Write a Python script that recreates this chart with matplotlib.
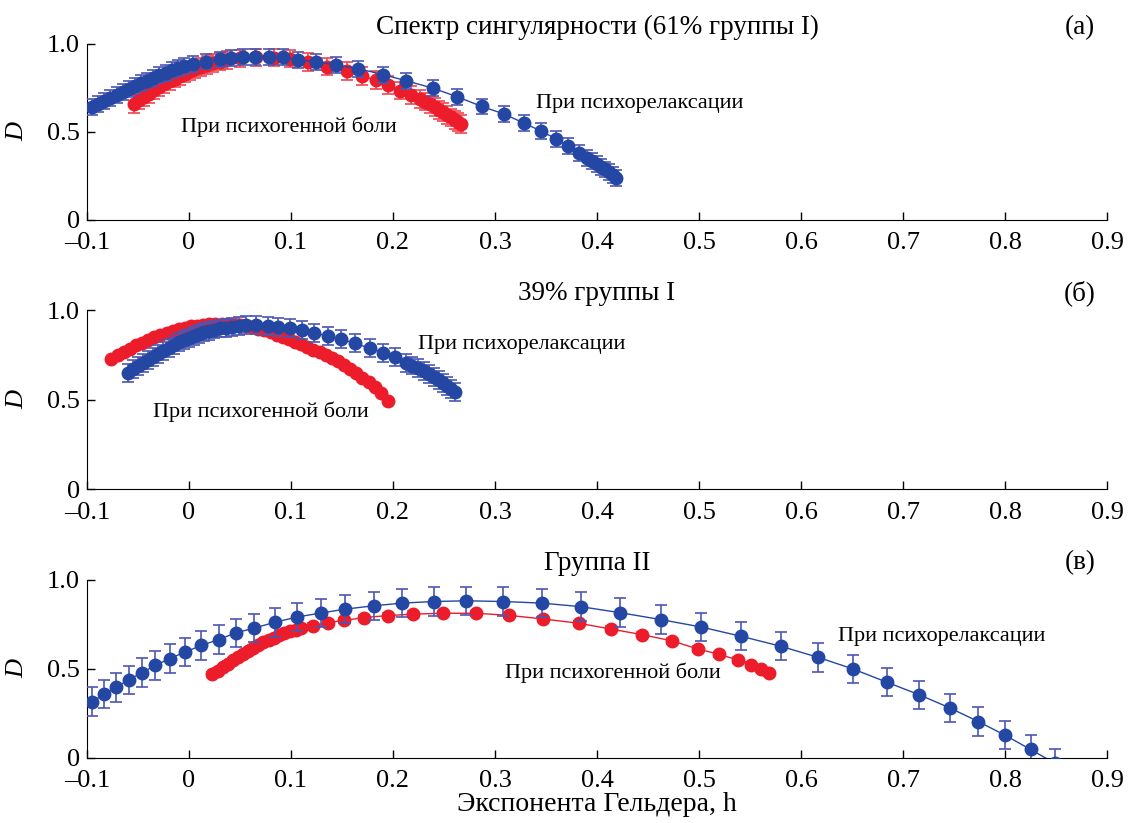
import matplotlib
matplotlib.use("Agg")
import matplotlib.pyplot as plt

plt.rcParams['font.family'] = ['Liberation Serif', 'DejaVu Serif']
plt.rcParams['font.size'] = 19

# panel (a): 61% of group I
ha_blue = [-0.095, -0.089, -0.083, -0.077, -0.071, -0.065, -0.059, -0.053, -0.047,
           -0.041, -0.035, -0.029, -0.023, -0.017, -0.011, -0.005, 0.004,
           0.017, 0.030, 0.041, 0.053, 0.065, 0.078, 0.092, 0.107, 0.125, 0.144,
           0.166, 0.190, 0.213, 0.239, 0.263, 0.287, 0.309, 0.328, 0.345, 0.360,
           0.372, 0.382, 0.390, 0.395, 0.400, 0.404, 0.408, 0.412, 0.416, 0.419]
Da_blue = [0.640, 0.658, 0.676, 0.693, 0.710, 0.727, 0.744, 0.760, 0.776,
           0.792, 0.808, 0.822, 0.836, 0.850, 0.862, 0.874, 0.888,
           0.900, 0.912, 0.919, 0.924, 0.928, 0.928, 0.924, 0.910, 0.899, 0.881,
           0.860, 0.826, 0.791, 0.749, 0.700, 0.645, 0.602, 0.551, 0.506, 0.460,
           0.420, 0.381, 0.352, 0.335, 0.318, 0.302, 0.287, 0.272, 0.256, 0.240]
ha_red = [-0.054, -0.049, -0.044, -0.039, -0.034, -0.029, -0.024, -0.019, -0.014,
          -0.009, -0.004, 0.001, 0.006, 0.012, 0.018, 0.024, 0.030, 0.037,
          0.050, 0.066, 0.083, 0.099, 0.117, 0.135, 0.155, 0.170, 0.183, 0.195,
          0.207, 0.218, 0.226, 0.231, 0.236, 0.241, 0.245, 0.249, 0.253, 0.257,
          0.261, 0.264, 0.267]
Da_red = [0.659, 0.679, 0.698, 0.717, 0.736, 0.754, 0.771, 0.787, 0.803,
          0.818, 0.832, 0.845, 0.857, 0.870, 0.882, 0.892, 0.900, 0.908,
          0.918, 0.924, 0.923, 0.917, 0.896, 0.871, 0.847, 0.818, 0.795, 0.767,
          0.735, 0.710, 0.688, 0.672, 0.657, 0.641, 0.626, 0.612, 0.597, 0.583,
          0.568, 0.556, 0.545]

# panel (b): 39% of group I
hb_blue = [-0.060, -0.055, -0.050, -0.045, -0.040, -0.035, -0.030, -0.025, -0.020,
           -0.015, -0.010, -0.005, 0.000, 0.005, 0.010, 0.015, 0.020, 0.025,
           0.030, 0.036, 0.042, 0.049, 0.056,
           0.066, 0.0775, 0.0875, 0.099, 0.111, 0.123, 0.136, 0.149, 0.163,
           0.177, 0.190, 0.202, 0.213, 0.219, 0.225, 0.230, 0.235, 0.240, 0.245,
           0.249, 0.253, 0.257, 0.2605]
Db_blue = [0.650, 0.670, 0.688, 0.704, 0.720, 0.736, 0.752, 0.770, 0.786,
           0.804, 0.820, 0.833, 0.846, 0.857, 0.867, 0.876, 0.884, 0.891,
           0.897, 0.902, 0.907, 0.911, 0.915,
           0.915, 0.911, 0.907, 0.898, 0.888, 0.873, 0.855, 0.837, 0.814,
           0.786, 0.762, 0.736, 0.706, 0.690, 0.674, 0.658, 0.642, 0.626, 0.609,
           0.593, 0.577, 0.560, 0.544]
hb_red = [-0.076, -0.070, -0.064, -0.058, -0.052, -0.046, -0.040, -0.034, -0.028,
          -0.022, -0.016, -0.010, -0.004, 0.002, 0.008, 0.014, 0.020, 0.026,
          0.032, 0.038, 0.044, 0.050, 0.056, 0.062, 0.068, 0.074, 0.080, 0.086,
          0.092, 0.098, 0.104, 0.110, 0.116, 0.122, 0.128, 0.134, 0.140, 0.146,
          0.152, 0.158, 0.164, 0.170, 0.176, 0.182, 0.188, 0.195]
Db_red = [0.725, 0.747, 0.767, 0.785, 0.802, 0.818, 0.833, 0.847, 0.860,
          0.872, 0.883, 0.893, 0.901, 0.908, 0.913, 0.917, 0.920, 0.922,
          0.922, 0.921, 0.919, 0.916, 0.911, 0.904, 0.895, 0.886, 0.875, 0.862,
          0.849, 0.836, 0.823, 0.810, 0.795, 0.779, 0.764, 0.749, 0.731, 0.713,
          0.694, 0.671, 0.647, 0.622, 0.596, 0.569, 0.535, 0.489]

# panel (c): group II
hc_blue = [-0.095, -0.083, -0.072, -0.059, -0.046, -0.033, -0.019, -0.004, 0.012,
           0.029, 0.046, 0.064, 0.084, 0.106, 0.129, 0.153, 0.181, 0.209, 0.240,
           0.272, 0.308, 0.346, 0.384, 0.423, 0.463, 0.502, 0.541, 0.580, 0.617,
           0.651, 0.684, 0.716, 0.746, 0.774, 0.800, 0.825, 0.849]
Dc_blue = [0.316, 0.359, 0.396, 0.439, 0.480, 0.520, 0.558, 0.595, 0.632,
           0.665, 0.703, 0.730, 0.762, 0.792, 0.814, 0.836, 0.855, 0.870, 0.879,
           0.883, 0.879, 0.870, 0.850, 0.816, 0.777, 0.736, 0.684, 0.628, 0.565,
           0.500, 0.426, 0.355, 0.281, 0.204, 0.128, 0.048, -0.030]
hc_red = [0.023, 0.028, 0.033, 0.038, 0.043, 0.048, 0.053, 0.058, 0.063, 0.068,
          0.073, 0.078, 0.083, 0.088, 0.093, 0.099, 0.105, 0.110,
          0.122, 0.136, 0.152, 0.172, 0.195, 0.220, 0.249, 0.281, 0.314, 0.347,
          0.382, 0.414, 0.444, 0.4735, 0.499, 0.520, 0.538, 0.551, 0.561, 0.569]
Dc_red = [0.470, 0.490, 0.510, 0.529, 0.548, 0.566, 0.583, 0.600, 0.617, 0.634,
          0.649, 0.663, 0.676, 0.689, 0.700, 0.711, 0.721, 0.730,
          0.743, 0.760, 0.773, 0.789, 0.800, 0.808, 0.813, 0.813, 0.801, 0.781,
          0.757, 0.724, 0.693, 0.658, 0.612, 0.582, 0.550, 0.522, 0.500, 0.476]

titles = ["Спектр сингулярности (61% группы I)", "39% группы I", "Группа II"]
letters = ["(а)", "(б)", "(в)"]
xticks = [-0.1, 0, 0.1, 0.2, 0.3, 0.4, 0.5, 0.6, 0.7, 0.8, 0.9]
xticklabels = ["\u20130.1", "0", "0.1", "0.2", "0.3", "0.4", "0.5", "0.6", "0.7", "0.8", "0.9"]

BLUE = "#2347a3"
BLUE_ERR = "#4d56b3"
RED = "#ec1c2a"
RED_ERR = "#f2434f"

fig = plt.figure(figsize=(11.28, 8.23), dpi=100)
boxes = [[0.0771, 0.7327, 0.9043, 0.2139],
         [0.0771, 0.4058, 0.9043, 0.2175],
         [0.0771, 0.0790, 0.9043, 0.2163]]
data = [(ha_blue, Da_blue, 0.045, ha_red, Da_red, 0.05, True),
        (hb_blue, Db_blue, 0.05, hb_red, Db_red, 0.0, False),
        (hc_blue, Dc_blue, 0.08, hc_red, Dc_red, 0.015, True)]

axes = []
for box, (hb, Db, eb, hr, Dr, er, redline) in zip(boxes, data):
    ax = fig.add_axes(box)
    ax.errorbar(hr, Dr, yerr=er if er > 0 else None, fmt='o', color=RED, ms=9,
                ecolor=RED_ERR, elinewidth=1.2, capsize=4, capthick=1.2, zorder=2)
    if redline:
        ax.plot(hr, Dr, '-', color=RED, lw=1, zorder=1)
    ax.plot(hb, Db, '-', color=BLUE, lw=1, zorder=3)
    ax.errorbar(hb, Db, yerr=eb, fmt='o', color=BLUE, ms=9,
                ecolor=BLUE_ERR, elinewidth=1.2, capsize=4, capthick=1.2, zorder=4)
    ax.set_xlim(-0.1, 0.9)
    ax.set_ylim(0, 1.0)
    ax.set_xticks(xticks)
    ax.set_xticklabels(xticklabels)
    ax.set_yticks([0, 0.5, 1.0])
    ax.set_yticklabels(["0", "0.5", "1.0"])
    ax.spines['top'].set_visible(False)
    ax.spines['right'].set_visible(False)
    ax.tick_params(direction='in', length=6, width=1, labelsize=19)
    ax.tick_params(axis='x', pad=9)
    ax.tick_params(axis='y', pad=5)
    ax.set_ylabel("D", fontstyle='italic', fontsize=19)
    ax.yaxis.set_label_coords(-0.058, 0.5)
    axes.append(ax)

for ax, t, l in zip(axes, titles, letters):
    ax.text(0.5, 1.095, t, transform=ax.transAxes, ha='center', va='center', fontsize=19.5)
    ax.text(0.9735, 1.095, l, transform=ax.transAxes, ha='center', va='center', fontsize=19.5)

axes[0].text(0.34, 0.66, "При психорелаксации", ha='left', va='center', fontsize=16)
axes[0].text(-0.008, 0.53, "При психогенной боли", ha='left', va='center', fontsize=16)
axes[1].text(0.225, 0.81, "При психорелаксации", ha='left', va='center', fontsize=16)
axes[1].text(-0.035, 0.43, "При психогенной боли", ha='left', va='center', fontsize=16)
axes[2].text(0.636, 0.685, "При психорелаксации", ha='left', va='center', fontsize=16)
axes[2].text(0.31, 0.48, "При психогенной боли", ha='left', va='center', fontsize=16)

axes[2].set_xlabel("Экспонента Гельдера, h", fontsize=20, labelpad=0)

fig.savefig("out.png", dpi=100)
